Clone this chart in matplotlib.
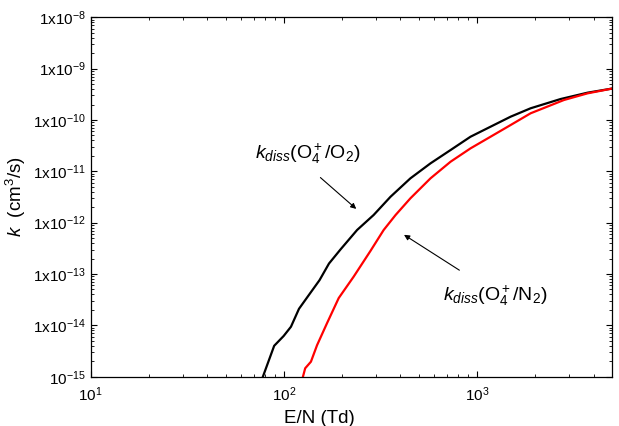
import numpy as np
import matplotlib
matplotlib.use("Agg")
import matplotlib.pyplot as plt
from matplotlib.ticker import FixedLocator, FixedFormatter, LogLocator, NullFormatter

plt.rcParams['font.family'] = ['Liberation Sans', 'DejaVu Sans']
plt.rcParams['mathtext.fontset'] = 'custom'
plt.rcParams['mathtext.rm'] = 'Liberation Sans'
plt.rcParams['mathtext.it'] = 'Liberation Sans:italic'

# k_diss(O4+/O2) - black
en_o2 = [77.8, 89, 99.6, 108.7, 119.6, 132.5, 152.8, 171, 196, 239, 291, 356,
         451, 573, 728, 923, 1172, 1489, 1889, 2700, 3720, 5000]
k_o2 = [1.0e-15, 4.0e-15, 6.2e-15, 9.4e-15, 2.1e-14, 3.6e-14, 7.6e-14, 1.6e-13,
        3.0e-13, 7.2e-13, 1.41e-12, 3.2e-12, 7.3e-12, 1.43e-11, 2.6e-11,
        4.72e-11, 7.4e-11, 1.16e-10, 1.69e-10, 2.56e-10, 3.4e-10, 4.1e-10]

# k_diss(O4+/N2) - red
en_n2 = [125.4, 128.8, 137.9, 148.3, 167, 192, 229.5, 280, 328, 378, 451, 573,
         728, 923, 1172, 1489, 1889, 2810, 3720, 5000]
k_n2 = [1.0e-15, 1.46e-15, 1.96e-15, 4.1e-15, 1.1e-14, 3.4e-14, 8.9e-14, 2.8e-13,
        7.2e-13, 1.41e-12, 2.98e-12, 7.3e-12, 1.54e-11, 2.8e-11, 4.72e-11,
        7.98e-11, 1.35e-10, 2.45e-10, 3.3e-10, 4.1e-10]

y_ticks = [1e-15, 1e-14, 1e-13, 1e-12, 1e-11, 1e-10, 1e-9, 1e-8]
y_labels = [r'10$^{-15}$', r'1x10$^{-14}$', r'1x10$^{-13}$', r'1x10$^{-12}$',
            r'1x10$^{-11}$', r'1x10$^{-10}$', r'1x10$^{-9}$', r'1x10$^{-8}$']
x_ticks = [10, 100, 1000]
x_labels = [r'10$^1$', r'10$^2$', r'10$^3$']

fig = plt.figure(figsize=(6.19, 4.26), dpi=100)
ax = fig.add_axes([0.1465, 0.1157, 0.8427, 0.8437])

ax.plot(en_o2, k_o2, color='black', lw=1.6)
ax.plot(en_n2, k_n2, color='red', lw=1.6)

ax.set_xscale('log')
ax.set_yscale('log')
ax.set_xlim(10, 5000)
ax.set_ylim(1e-15, 1e-8)

ax.yaxis.set_major_locator(FixedLocator(y_ticks))
ax.yaxis.set_major_formatter(FixedFormatter(y_labels))
ax.yaxis.set_minor_locator(LogLocator(base=10, subs=np.arange(2, 10), numticks=20))
ax.yaxis.set_minor_formatter(NullFormatter())
ax.xaxis.set_major_locator(FixedLocator(x_ticks))
ax.xaxis.set_major_formatter(FixedFormatter(x_labels))
ax.xaxis.set_minor_locator(LogLocator(base=10, subs=np.arange(2, 10), numticks=20))
ax.xaxis.set_minor_formatter(NullFormatter())

ax.tick_params(which='both', direction='in', top=True, right=True, labelsize=11)
ax.tick_params(which='major', length=4, width=0.8)
ax.tick_params(which='minor', length=2.5, width=0.6)
ax.tick_params(axis='x', pad=6)
for s in ax.spines.values():
    s.set_linewidth(0.9)

ax.set_xlabel('E/N (Td)', fontsize=13.5, va='top')
ax.xaxis.set_label_coords(0.438, -0.093)
ax.set_ylabel(r'$k$  (cm$^3$/s)', fontsize=13.5)
ax.yaxis.set_label_coords(-0.12, 0.5)

ax.text(0.4166, 0.6197, r'$k_{diss}$(O$_4^+$/O$_2$)', transform=ax.transAxes,
        ha='center', va='center', fontsize=14)
ax.annotate('', xy=(0.5131, 0.4618), xytext=(0.4364, 0.5592), xycoords='axes fraction',
            arrowprops=dict(arrowstyle='-|>', lw=0.8, color='black', mutation_scale=8))
ax.text(0.7751, 0.2245, r'$k_{diss}$(O$_4^+$/N$_2$)', transform=ax.transAxes,
        ha='center', va='center', fontsize=14)
ax.annotate('', xy=(0.5962, 0.3990), xytext=(0.7113, 0.2922), xycoords='axes fraction',
            arrowprops=dict(arrowstyle='-|>', lw=0.8, color='black', mutation_scale=8))

fig.savefig('out.png', dpi=100)
